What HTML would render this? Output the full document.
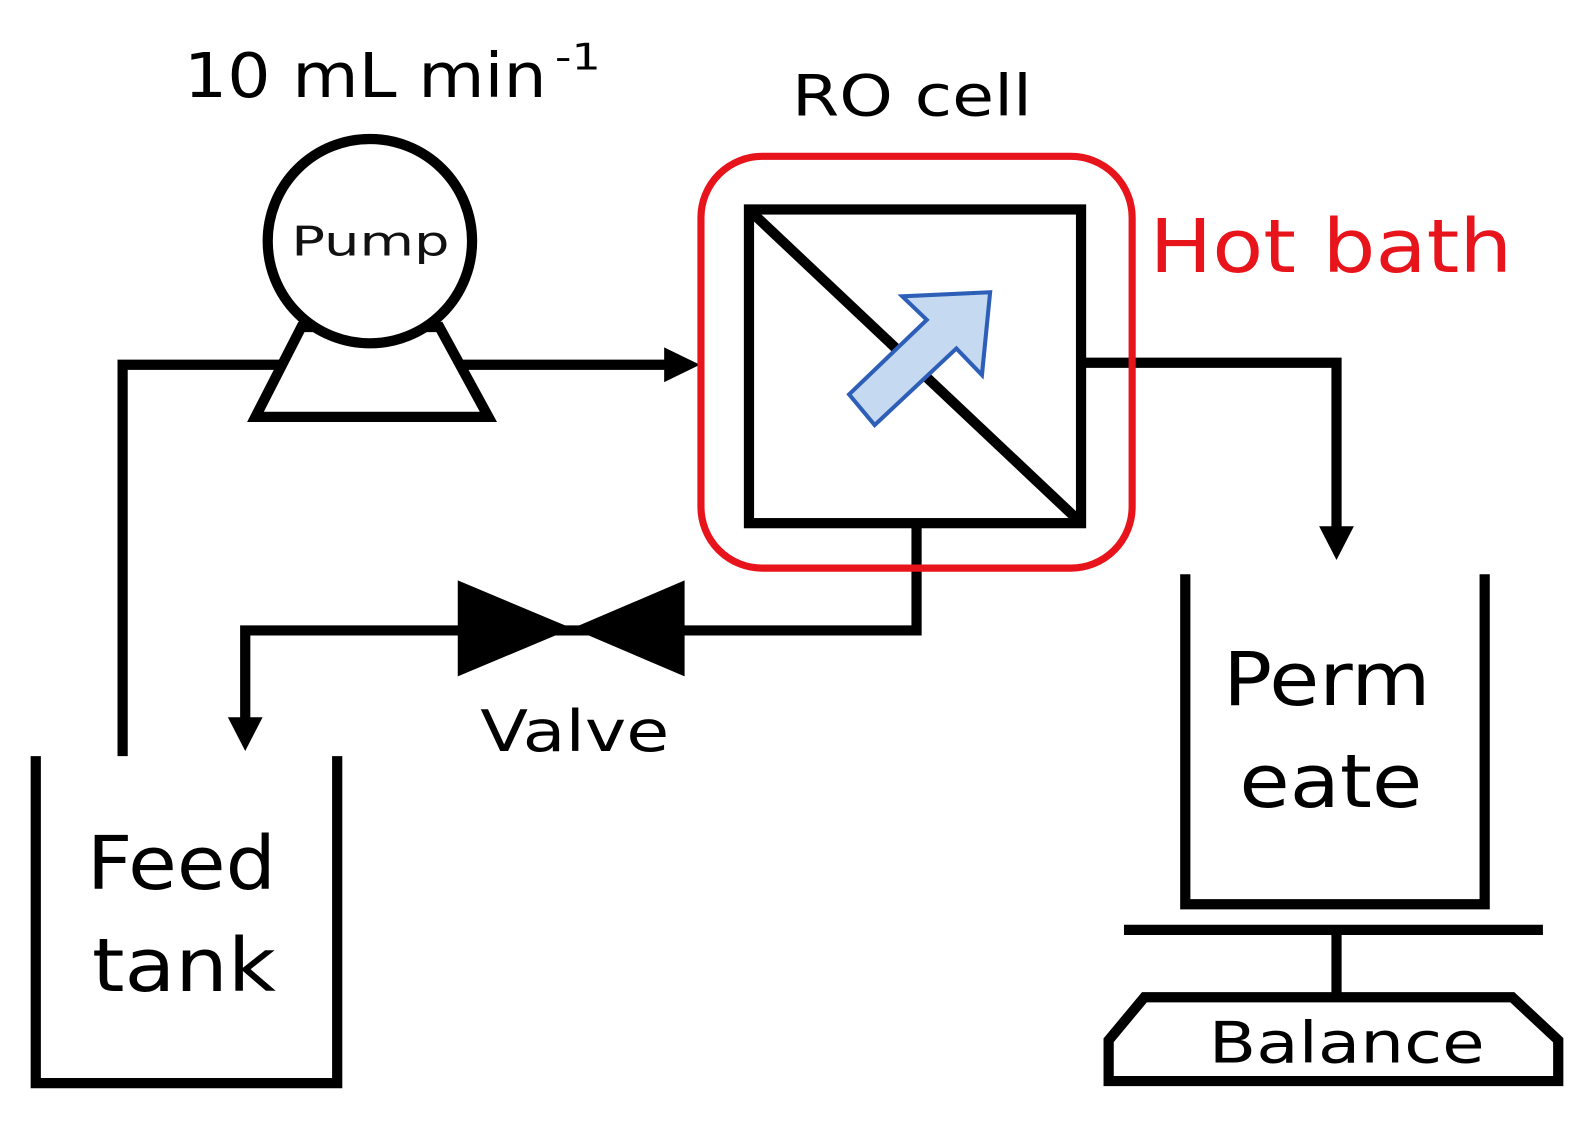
<!DOCTYPE html>
<html><head><style>html,body{margin:0;padding:0;background:#fff;}svg{display:block;}</style></head>
<body>
<svg width="1594" height="1125" viewBox="0 0 1560 1101" xmlns="http://www.w3.org/2000/svg" font-family="'DejaVu Sans', 'Liberation Sans', sans-serif">
<rect width="1560" height="1101" fill="#fff"/>
<g fill="none" stroke="#000" stroke-width="10">
  <polyline points="120,740 120,357 285,357"/>
  <line x1="440" y1="357" x2="660" y2="357"/>
  <polygon points="250,408 478,408 430,320 295,320" fill="#fff"/>
  <circle cx="362" cy="236" r="100" fill="#fff"/>
  <rect x="733" y="205" width="325" height="307"/>
  <line x1="738" y1="210" x2="1054" y2="508"/>
  <polyline points="1058,355 1308,355 1308,525"/>
  <polyline points="897,512 897,617 240,617 240,712"/>
  <polyline points="35,740 35,1060 330,1060 330,740"/>
  <polyline points="1160,562 1160,885 1453,885 1453,562"/>
  <line x1="1100" y1="910" x2="1510" y2="910"/>
  <line x1="1308" y1="910" x2="1308" y2="976"/>
  <polygon points="1120,976 1480,976 1525,1018 1525,1058 1085,1058 1085,1018"/>
</g>
<polygon points="650,340 685,357 650,374" fill="#000"/>
<polygon points="1291,515 1308,548 1325,515" fill="#000"/>
<polygon points="223,702 240,735 257,702" fill="#000"/>
<polygon points="448,568 448,662 560,615" fill="#000"/>
<polygon points="670,568 670,662 560,615" fill="#000"/>
<rect x="686" y="153" width="422" height="403" rx="60" fill="none" stroke="#e8141c" stroke-width="7"/>
<polygon points="969,286 961,367 936,341 856,416 831,386 907,313 883,290" fill="#c5d9f1" stroke="#2e5fb8" stroke-width="4"/>
<g lengthAdjust="spacingAndGlyphs">
<text x="180" y="95" font-size="60" textLength="355" lengthAdjust="spacingAndGlyphs">10 mL min</text>
<text x="543" y="68" font-size="36" textLength="45" lengthAdjust="spacingAndGlyphs">-1</text>
<text x="775" y="113" font-size="56" textLength="235" lengthAdjust="spacingAndGlyphs">RO cell</text>
<text x="285" y="250" font-size="40" textLength="155" lengthAdjust="spacingAndGlyphs" fill="#111">Pump</text>
<text x="1125" y="266" font-size="72" textLength="355" lengthAdjust="spacingAndGlyphs" fill="#e8141c">Hot bath</text>
<text x="470" y="735" font-size="56" textLength="185" lengthAdjust="spacingAndGlyphs">Valve</text>
<text x="85" y="870" font-size="72" textLength="185" lengthAdjust="spacingAndGlyphs">Feed</text>
<text x="90" y="970" font-size="72" textLength="180" lengthAdjust="spacingAndGlyphs">tank</text>
<text x="1197" y="690" font-size="72" textLength="203" lengthAdjust="spacingAndGlyphs">Perm</text>
<text x="1213" y="790" font-size="72" textLength="179" lengthAdjust="spacingAndGlyphs">eate</text>
<text x="1183" y="1040" font-size="56" textLength="270" lengthAdjust="spacingAndGlyphs">Balance</text>
</g>
</svg>
</body></html>
